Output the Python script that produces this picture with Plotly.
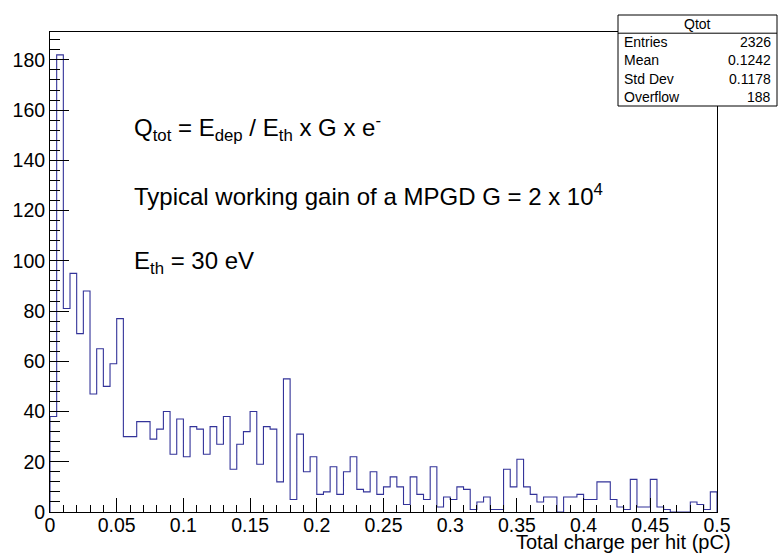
import plotly.graph_objects as go

# Histogram "Qtot": total charge per hit, 100 bins of 0.005 pC between 0 and 0.5
bin_width = 0.005
counts = [
    38, 182, 81, 95, 71, 88, 47, 65, 50, 59,
    77, 30, 30, 36, 36, 29, 33, 40, 23, 37,
    22, 34, 33, 23, 34, 27, 38, 17, 27, 32,
    40, 19, 34, 33, 12, 53, 5, 31, 16, 22,
    7, 8, 18, 7, 16, 22, 9, 8, 16, 7,
    10, 14, 10, 3, 14, 7, 5, 18, 2, 6,
    5, 10, 9, 1, 4, 6, 1, 1, 17, 10,
    21, 10, 7, 4, 6, 6, 0, 6, 6, 7,
    5, 5, 12, 12, 5, 2, 1, 13, 2, 2,
    13, 2, 1, 0, 0, 0, 4, 3, 1, 8,
]

x_tickvals = [0, 0.05, 0.1, 0.15, 0.2, 0.25, 0.3, 0.35, 0.4, 0.45, 0.5]
x_ticktext = ["0", "0.05", "0.1", "0.15", "0.2", "0.25", "0.3", "0.35", "0.4", "0.45", "0.5"]
y_tickvals = [0, 20, 40, 60, 80, 100, 120, 140, 160, 180]
y_ticktext = [str(v) for v in y_tickvals]

stats_title = "Qtot"
stats_labels = ["Entries", "Mean", "Std Dev", "Overflow"]
stats_values = ["2326", "0.1242", "0.1178", "188"]

formula_lines = [
    "Q<sub>tot</sub> = E<sub>dep</sub> / E<sub>th</sub> x G x e<sup>-</sup>",
    "Typical working gain of a MPGD G = 2 x 10<sup>4</sup>",
    "E<sub>th</sub> = 30 eV",
]
x_title = "Total charge per hit (pC)"

# ---------------------------------------------------------------------------
W, H = 778, 555
FL, FR, FT, FB = 50, 717, 32, 512          # frame edges in page pixels
FONT = "Liberation Sans, Arial, Helvetica, sans-serif"
HIST_COLOR = "#333399"


def paper_x(p):
    return (p - FL) / (FR - FL)


def paper_y(p):
    return (FB - p) / (FB - FT)


edges = [i * bin_width for i in range(len(counts) + 1)]
step_x = [edges[0]] + edges + [edges[-1]]
step_y = [0] + counts + [counts[-1], 0]

y_max = 1.05 * max(counts)

fig = go.Figure()
fig.add_trace(go.Scatter(
    x=step_x, y=step_y, mode="lines", line_shape="hv",
    line=dict(color=HIST_COLOR, width=1.1), hoverinfo="skip", showlegend=False,
))

axis_common = dict(
    showgrid=False, zeroline=False, showline=True, linecolor="black",
    linewidth=1, mirror=True, ticks="inside", tickcolor="black", tickwidth=1,
    tickfont=dict(family=FONT, size=19.5, color="black"),
)

fig.update_xaxes(
    range=[0, 0.5], tickmode="array", tickvals=x_tickvals, ticktext=x_ticktext,
    ticklen=14, ticklabelstandoff=-4,
    minor=dict(tick0=0, dtick=0.01, ticks="inside", ticklen=7, tickcolor="black", showgrid=False),
    **axis_common,
)
fig.update_yaxes(
    range=[0, y_max], tickmode="array", tickvals=y_tickvals, ticktext=y_ticktext,
    ticklen=19,
    minor=dict(tick0=0, dtick=4, ticks="inside", ticklen=10, tickcolor="black", showgrid=False),
    **axis_common,
)

annotations = []
for text, ypix in zip(formula_lines, [128, 195, 262]):
    annotations.append(dict(
        text=text, xref="paper", yref="paper", x=paper_x(132), y=paper_y(ypix),
        xanchor="left", yanchor="middle", showarrow=False,
        font=dict(family=FONT, size=24, color="black"),
    ))

annotations.append(dict(
    text=x_title, xref="paper", yref="paper", x=paper_x(733), y=paper_y(542),
    xanchor="right", yanchor="middle", showarrow=False,
    font=dict(family=FONT, size=20, color="black"),
))

# statistics box: a title row and four value rows of equal height
bx0, bx1, by0, by1 = 618, 777, 15, 106
row_h = (by1 - by0) / 5
sep = by0 + row_h
shapes = [
    dict(type="rect", xref="paper", yref="paper", layer="above",
         x0=paper_x(bx0), x1=paper_x(bx1), y0=paper_y(by1), y1=paper_y(by0),
         line=dict(color="black", width=1), fillcolor="white"),
    dict(type="line", xref="paper", yref="paper", layer="above",
         x0=paper_x(bx0), x1=paper_x(bx1), y0=paper_y(sep), y1=paper_y(sep),
         line=dict(color="black", width=1)),
]
annotations.append(dict(
    text=stats_title, xref="paper", yref="paper",
    x=paper_x((bx0 + bx1) / 2), y=paper_y(by0 + row_h / 2),
    xanchor="center", yanchor="middle", showarrow=False,
    font=dict(family=FONT, size=14, color="black"),
))
for i, (lab, val) in enumerate(zip(stats_labels, stats_values)):
    yc = sep + row_h * (i + 0.5)
    annotations.append(dict(
        text=lab, xref="paper", yref="paper", x=paper_x(bx0 + 4), y=paper_y(yc),
        xanchor="left", yanchor="middle", showarrow=False,
        font=dict(family=FONT, size=14, color="black"),
    ))
    annotations.append(dict(
        text=val, xref="paper", yref="paper", x=paper_x(bx1 - 4), y=paper_y(yc),
        xanchor="right", yanchor="middle", showarrow=False,
        font=dict(family=FONT, size=14, color="black"),
    ))

fig.update_layout(
    width=W, height=H,
    margin=dict(l=FL, r=W - FR, t=FT, b=H - FB),
    paper_bgcolor="white", plot_bgcolor="white",
    shapes=shapes, annotations=annotations,
    showlegend=False,
)

fig.write_html("out.html", include_plotlyjs=True, config={"displayModeBar": False})
